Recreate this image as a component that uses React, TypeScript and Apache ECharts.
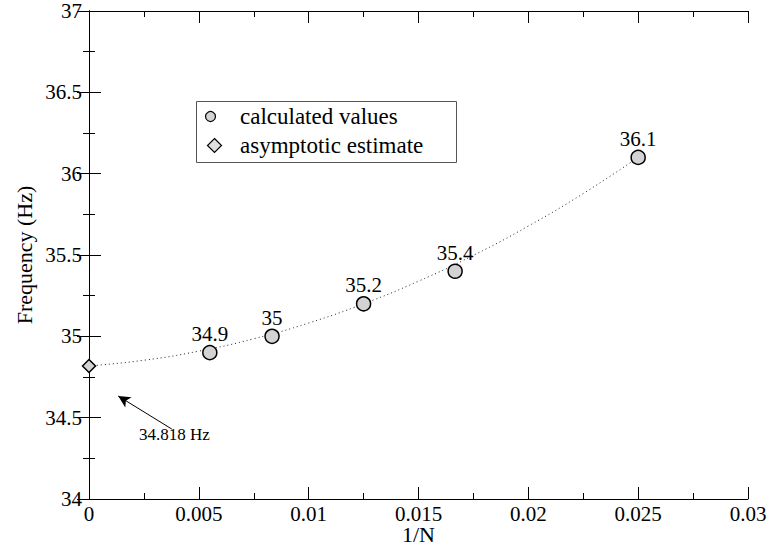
import React, { useEffect, useRef } from "react";
import * as echarts from "echarts";

const calcX = [0.0055, 0.008333, 0.0125, 0.016667, 0.025];
const calcY = [34.9, 35.0, 35.2, 35.4, 36.1];
const calcLabels = ["34.9", "35", "35.2", "35.4", "36.1"];
const asymX = [0];
const asymY = [34.818];
const fitX = [0, 0.0025, 0.005, 0.0075, 0.01, 0.0125, 0.015, 0.0175, 0.02, 0.0225, 0.025];
const fitY = [34.818, 34.853, 34.909, 34.985, 35.082, 35.2, 35.339, 35.498, 35.678, 35.878, 36.1];
const xTickValues = [0, 0.005, 0.01, 0.015, 0.02, 0.025, 0.03];
const xTickLabels = ["0", "0.005", "0.01", "0.015", "0.02", "0.025", "0.03"];
const yTickValues = [34, 34.5, 35, 35.5, 36, 36.5, 37];
const yTickLabels = ["34", "34.5", "35", "35.5", "36", "36.5", "37"];
const arrowFrom = [0.00377, 34.43];
const arrowTo = [0.00133, 34.633];
const annotationText = "34.818 Hz";
const legendNames = ["calculated values", "asymptotic estimate"];
const xName = "1/N";
const yName = "Frequency (Hz)";

const LIB = "Liberation Serif";
const TIMES = "Times";

export default function App() {
  const ref = useRef<HTMLDivElement>(null);
  useEffect(() => {
    if (!ref.current) return;
    const chart = echarts.init(ref.current, null, { renderer: "svg" });
    const axisCommon = {
      type: "value" as const,
      axisLine: { show: true, lineStyle: { color: "#000", width: 1 } },
      axisTick: { show: true, inside: true, length: 12, lineStyle: { color: "#000", width: 1 } },
      minorTick: { show: true, splitNumber: 2, length: 6, lineStyle: { color: "#000", width: 1 } },
      splitLine: { show: false },
      axisLabel: { show: false },
    };
    chart.setOption({
      animation: false,
      backgroundColor: "#fff",
      textStyle: { fontFamily: LIB, color: "#000" },
      grid: { left: 89, right: 22, top: 11, bottom: 59, containLabel: false },
      xAxis: [
        {
          ...axisCommon,
          position: "bottom",
          min: 0,
          max: 0.03,
          interval: 0.005,
          name: xName,
          nameLocation: "middle",
          nameGap: 24,
          nameTextStyle: { fontFamily: LIB, fontSize: 22, color: "#000" },
        },
        { ...axisCommon, position: "top", min: 0, max: 0.03, interval: 0.005 },
      ],
      yAxis: [
        {
          ...axisCommon,
          position: "left",
          min: 34,
          max: 37,
          interval: 0.5,
          name: yName,
          nameLocation: "middle",
          nameGap: 54,
          nameTextStyle: { fontFamily: LIB, fontSize: 22, color: "#000" },
        },
        { ...axisCommon, position: "right", min: 34, max: 37, interval: 0.5 },
      ],
      series: [
        {
          name: "fit",
          type: "line",
          data: fitX.map((x, i) => [x, fitY[i]]),
          symbol: "none",
          smooth: true,
          lineStyle: { color: "#222", width: 1, type: [1, 3] },
          silent: true,
          z: 2,
          markLine: {
            silent: true,
            symbol: ["none", "arrow"],
            symbolSize: [9, 12],
            lineStyle: { color: "#000", width: 1, type: "solid" },
            label: { show: false },
            data: [[{ coord: arrowFrom }, { coord: arrowTo }]],
          },
        },
        {
          name: legendNames[0],
          type: "scatter",
          data: calcX.map((x, i) => [x, calcY[i]]),
          symbol: "circle",
          symbolSize: 14,
          itemStyle: { color: "#d3d3d3", borderColor: "#000", borderWidth: 1.5, opacity: 1 },
          z: 3,
        },
        {
          name: legendNames[1],
          type: "scatter",
          data: asymX.map((x, i) => [x, asymY[i]]),
          symbol: "diamond",
          symbolSize: [13, 13],
          clip: false,
          itemStyle: { color: "#d3d3d3", borderColor: "#000", borderWidth: 1.5, opacity: 1 },
          z: 4,
        },
      ],
    });

    const txt = (x: number, y: number, text: string, size: number, family: string, align: string, vAlign: string) => ({
      type: "text",
      x,
      y,
      z: 10,
      style: { text, fontFamily: family, fontSize: size, fill: "#000", align, verticalAlign: vAlign },
    });

    const xLabelEls = xTickValues.map((v, i) => {
      const px = chart.convertToPixel({ xAxisIndex: 0 }, v) as number;
      const py = chart.convertToPixel({ yAxisIndex: 0 }, 34) as number;
      return txt(px, py + 4, xTickLabels[i], 21, LIB, "center", "top");
    });
    const yLabelEls = yTickValues.map((v, i) => {
      const px = chart.convertToPixel({ xAxisIndex: 0 }, 0) as number;
      const py = chart.convertToPixel({ yAxisIndex: 0 }, v) as number;
      return txt(px - 7, py, yTickLabels[i], 21, LIB, "right", "middle");
    });
    const dataLabelEls = calcX.map((x, i) => {
      const p = chart.convertToPixel({ seriesIndex: 1 }, [x, calcY[i]]) as number[];
      return txt(p[0], p[1] - 8, calcLabels[i], 21, TIMES, "center", "bottom");
    });

    chart.setOption({
      graphic: [
        ...xLabelEls,
        ...yLabelEls,
        ...dataLabelEls,
        {
          type: "text",
          x: 139,
          y: 426,
          z: 10,
          style: { text: annotationText, fontFamily: TIMES, fontSize: 17, fill: "#000" },
        },
        {
          type: "group",
          left: 196,
          top: 101,
          z: 9,
          children: [
            {
              type: "rect",
              shape: { x: 0, y: 0, width: 260, height: 61 },
              style: { fill: "#fff", stroke: "#555", lineWidth: 1 },
            },
            {
              type: "circle",
              shape: { cx: 14, cy: 15, r: 5 },
              style: { fill: "#d3d3d3", stroke: "#000", lineWidth: 1.2 },
            },
            {
              type: "polygon",
              shape: { points: [[18, 37], [25, 44], [18, 51], [11, 44]] },
              style: { fill: "#e0e0e0", stroke: "#000", lineWidth: 1.2 },
            },
          ],
        },
        txt(240, 116, legendNames[0], 23, LIB, "left", "middle"),
        txt(240, 145, legendNames[1], 23, LIB, "left", "middle"),
      ],
    });
    return () => chart.dispose();
  }, []);
  return (
    <div
      ref={ref}
      style={{ position: "absolute", left: 0, top: 0, width: 770, height: 558 }}
    />
  );
}
